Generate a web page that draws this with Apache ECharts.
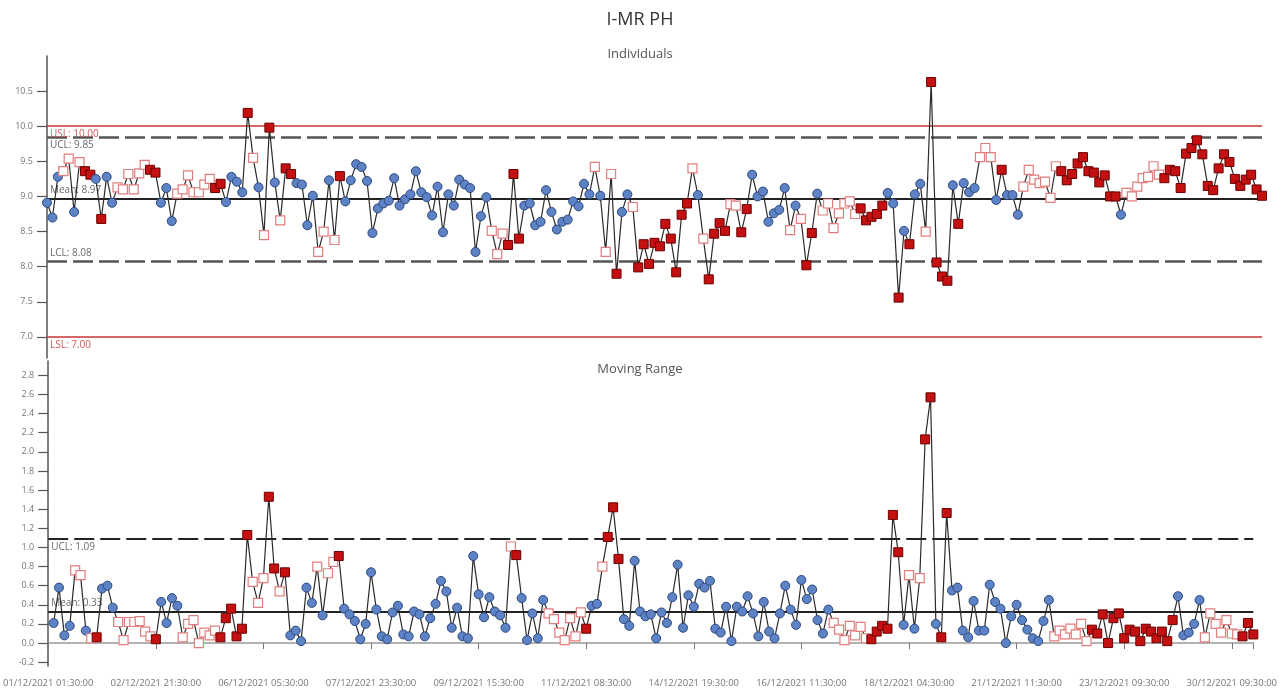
<!DOCTYPE html>
<html>
<head>
<meta charset="utf-8">
<title>I-MR PH</title>
<script src="https://cdn.jsdelivr.net/npm/echarts@6.0.0/dist/echarts.min.js"></script>
<style>
  html, body { margin: 0; padding: 0; background: #fff; }
  #chart { width: 1280px; height: 691px; }
</style>
</head>
<body>
<div id="chart"></div>
<script>
// individual pH readings, one per sample
const indValues = [
  8.91, 8.70, 9.28, 9.36, 9.54, 8.78, 9.49, 9.36, 9.31, 9.25,
  8.68, 9.28, 8.91, 9.13, 9.10, 9.32, 9.10, 9.33, 9.45, 9.38,
  9.34, 8.91, 9.12, 8.65, 9.04, 9.10, 9.30, 9.06, 9.06, 9.17,
  9.25, 9.12, 9.18, 8.92, 9.28, 9.21, 9.06, 10.19, 9.55, 9.13,
  8.45, 9.98, 9.20, 8.66, 9.40, 9.32, 9.19, 9.17, 8.59, 9.01,
  8.21, 8.50, 9.23, 8.38, 9.29, 8.93, 9.23, 9.46, 9.42, 9.22,
  8.48, 8.83, 8.90, 8.94, 9.26, 8.87, 8.96, 9.03, 9.36, 9.06,
  8.99, 8.73, 9.14, 8.49, 9.03, 8.87, 9.24, 9.17, 9.12, 8.21,
  8.72, 8.99, 8.51, 8.18, 8.47, 8.31, 9.32, 8.40, 8.87, 8.90,
  8.59, 8.64, 9.09, 8.78, 8.53, 8.64, 8.67, 8.93, 8.86, 9.18,
  9.03, 9.42, 9.01, 8.21, 9.32, 7.90, 8.78, 9.03, 8.85, 7.99,
  8.32, 8.04, 8.34, 8.29, 8.61, 8.40, 7.92, 8.74, 8.90, 9.40,
  9.02, 8.40, 7.82, 8.47, 8.62, 8.51, 8.89, 8.87, 8.49, 8.82,
  9.31, 9.00, 9.07, 8.64, 8.76, 8.81, 9.12, 8.52, 8.87, 8.68,
  8.02, 8.48, 9.04, 8.80, 8.90, 8.55, 8.76, 8.90, 8.93, 8.75,
  8.83, 8.66, 8.71, 8.75, 8.87, 9.05, 8.90, 7.56, 8.51, 8.32,
  9.03, 9.18, 8.50, 10.63, 8.06, 7.86, 7.80, 9.16, 8.61, 9.19,
  9.06, 9.12, 9.56, 9.69, 9.56, 8.95, 9.38, 9.02, 9.02, 8.74,
  9.14, 9.38, 9.24, 9.19, 9.21, 8.98, 9.43, 9.36, 9.23, 9.32,
  9.47, 9.56, 9.36, 9.34, 9.20, 9.30, 9.00, 9.00, 8.74, 9.05,
  9.00, 9.14, 9.26, 9.28, 9.43, 9.31, 9.26, 9.38, 9.36, 9.12,
  9.61, 9.69, 9.80, 9.60, 9.15, 9.09, 9.40, 9.60, 9.49, 9.25,
  9.15, 9.24, 9.31, 9.10, 9.01
];

// moving range values (first sample has none)
const mrValues = [
  null, 0.21, 0.58, 0.08, 0.18, 0.76, 0.71, 0.13, 0.05, 0.06,
  0.57, 0.60, 0.37, 0.22, 0.03, 0.22, 0.22, 0.23, 0.12, 0.07,
  0.04, 0.43, 0.21, 0.47, 0.39, 0.06, 0.20, 0.24, 0.00, 0.11,
  0.08, 0.13, 0.06, 0.26, 0.36, 0.07, 0.15, 1.13, 0.64, 0.42,
  0.68, 1.53, 0.78, 0.54, 0.74, 0.08, 0.13, 0.02, 0.58, 0.42,
  0.80, 0.29, 0.73, 0.85, 0.91, 0.36, 0.30, 0.23, 0.04, 0.20,
  0.74, 0.35, 0.07, 0.04, 0.32, 0.39, 0.09, 0.07, 0.33, 0.30,
  0.07, 0.26, 0.41, 0.65, 0.54, 0.16, 0.37, 0.07, 0.05, 0.91,
  0.51, 0.27, 0.48, 0.33, 0.29, 0.16, 1.01, 0.92, 0.47, 0.03,
  0.31, 0.05, 0.45, 0.31, 0.25, 0.11, 0.03, 0.26, 0.07, 0.32,
  0.15, 0.39, 0.41, 0.80, 1.11, 1.42, 0.88, 0.25, 0.18, 0.86,
  0.33, 0.28, 0.30, 0.05, 0.32, 0.21, 0.48, 0.82, 0.16, 0.50,
  0.38, 0.62, 0.58, 0.65, 0.15, 0.11, 0.38, 0.02, 0.38, 0.33,
  0.49, 0.31, 0.07, 0.43, 0.12, 0.05, 0.31, 0.60, 0.35, 0.19,
  0.66, 0.46, 0.56, 0.24, 0.10, 0.35, 0.21, 0.14, 0.03, 0.18,
  0.08, 0.17, 0.05, 0.04, 0.12, 0.18, 0.15, 1.34, 0.95, 0.19,
  0.71, 0.15, 0.68, 2.13, 2.57, 0.20, 0.06, 1.36, 0.55, 0.58,
  0.13, 0.06, 0.44, 0.13, 0.13, 0.61, 0.43, 0.36, 0.00, 0.28,
  0.40, 0.24, 0.14, 0.05, 0.02, 0.23, 0.45, 0.07, 0.13, 0.09,
  0.15, 0.09, 0.20, 0.02, 0.14, 0.10, 0.30, 0.00, 0.26, 0.31,
  0.05, 0.14, 0.12, 0.02, 0.15, 0.12, 0.05, 0.12, 0.02, 0.24,
  0.49, 0.08, 0.11, 0.20, 0.45, 0.06, 0.31, 0.20, 0.11, 0.24,
  0.10, 0.09, 0.07, 0.21, 0.09
];

// rule status per point: 0 = in control, 1 = warning, 2 = violation
const indStatus = [
  '0001101220', '2001111112', '2000111111', '1220000210', '1201220000',
  '1101200000', '0000000000', '0000000000', '0011122200', '0000000000',
  '0101120012', '2222222221', '0122221122', '0000000101', '2201111111',
  '2222200202', '0012222020', '0011102000', '1111111222', '2222222201',
  '1111112222', '2222222222', '22222'
].join('');

const mrStatus = [
  '0000011012', '0001111111', '2000011111', '1122222211', '1221200000',
  '1011200000', '0000000000', '0000000000', '0000001200', '0001111111',
  '2001222000', '0000000000', '0000000000', '0000000000', '0000001111',
  '1112222220', '1012202200', '0000000000', '0000000111', '1111222222',
  '2222222222', '0000011111', '11222'
].join('');

// x axis labels, one every 20 samples
const tickLabels = [
  '01/12/2021 01:30:00', '02/12/2021 21:30:00', '06/12/2021 05:30:00',
  '07/12/2021 23:30:00', '09/12/2021 15:30:00', '11/12/2021 08:30:00',
  '14/12/2021 19:30:00', '16/12/2021 11:30:00', '18/12/2021 04:30:00',
  '21/12/2021 11:30:00', '23/12/2021 09:30:00', '30/12/2021 09:30:00'
];

const indTicks = [7.0, 7.5, 8.0, 8.5, 9.0, 9.5, 10.0, 10.5];
const mrTicks = [-0.2, 0, 0.2, 0.4, 0.6, 0.8, 1.0, 1.2, 1.4, 1.6, 1.8, 2.0, 2.2, 2.4, 2.6, 2.8];

const USL = 10.00, LSL = 7.00;
const indUCL = 9.85, indMean = 8.97, indLCL = 8.08;
const mrUCL = 1.09, mrMean = 0.33;

const FONT = '"Open Sans", "Noto Sans", sans-serif';
const categories = indValues.map((v, i) => String(i));
const lastIdx = categories.length - 1;

const pointStyle = {
  '0': { symbol: 'circle', itemStyle: { color: '#5d82c6', borderColor: '#2c4a7e', borderWidth: 1 } },
  '1': { symbol: 'rect', itemStyle: { color: '#ffffff', borderColor: '#e27d7d', borderWidth: 1.2 } },
  '2': { symbol: 'rect', itemStyle: { color: '#c41010', borderColor: '#6a0000', borderWidth: 1 } }
};

function buildPoints(values, status) {
  return values.map((v, i) => {
    const s = pointStyle[status[i]] || pointStyle['0'];
    return { value: v, symbol: s.symbol, itemStyle: s.itemStyle };
  });
}

function limitLine(value, text, color, type, width, pos) {
  return {
    yAxis: value,
    lineStyle: { color: color, type: type, width: width },
    label: {
      show: true, formatter: text, position: pos, distance: 3,
      color: color === '#222' || color === '#555' ? '#6a6a6a' : '#d05a5a',
      fontSize: 10, fontFamily: FONT
    }
  };
}

const yAxisBase = {
  type: 'value',
  axisLine: { show: true, lineStyle: { color: '#555', width: 1.5 } },
  axisTick: { show: true, inside: false, length: 10, lineStyle: { color: '#555', width: 1.2 } },
  splitLine: { show: false },
  axisLabel: { color: '#777', fontSize: 9, fontFamily: FONT, margin: 14, formatter: v => v.toFixed(1) }
};

const chart = echarts.init(document.getElementById('chart'));
chart.setOption({
  animation: false,
  backgroundColor: '#fff',
  title: [
    { text: 'I-MR PH', left: 'center', top: 6, textStyle: { fontSize: 18, fontWeight: 'normal', color: '#333', fontFamily: FONT } },
    { text: 'Individuals', left: 'center', top: 43, textStyle: { fontSize: 13, fontWeight: 'normal', color: '#555', fontFamily: FONT } },
    { text: 'Moving Range', left: 'center', top: 358, textStyle: { fontSize: 13, fontWeight: 'normal', color: '#555', fontFamily: FONT } }
  ],
  grid: [
    { left: 47, right: 18, top: 56, height: 302 },
    { left: 47, right: 18, top: 361, height: 305 }
  ],
  xAxis: [
    { type: 'category', gridIndex: 0, data: categories, boundaryGap: false, show: false },
    {
      type: 'category', gridIndex: 1, data: categories, boundaryGap: false,
      axisLine: { show: true, lineStyle: { color: '#999', width: 1.5 } },
      axisTick: {
        show: true, length: 6, lineStyle: { color: '#777' },
        interval: idx => idx % 20 === 0 || idx === lastIdx
      },
      axisLabel: {
        interval: 19, color: '#777', fontSize: 9.5, fontFamily: FONT, margin: 12,
        formatter: (v, idx) => tickLabels[idx / 20] || ''
      }
    }
  ],
  yAxis: [
    Object.assign({}, yAxisBase, {
      gridIndex: 0, min: 6.7, max: 11.0,
      axisTick: Object.assign({}, yAxisBase.axisTick, { customValues: indTicks }),
      axisLabel: Object.assign({}, yAxisBase.axisLabel, { customValues: indTicks })
    }),
    Object.assign({}, yAxisBase, {
      gridIndex: 1, min: -0.24, max: 2.95,
      axisTick: Object.assign({}, yAxisBase.axisTick, { customValues: mrTicks }),
      axisLabel: Object.assign({}, yAxisBase.axisLabel, { customValues: mrTicks })
    })
  ],
  series: [
    {
      name: 'Individuals', type: 'line', xAxisIndex: 0, yAxisIndex: 0,
      data: buildPoints(indValues, indStatus),
      symbolSize: 9, showAllSymbol: true,
      lineStyle: { color: '#2a2a2a', width: 1.2 },
      z: 5,
      markLine: {
        silent: true, symbol: ['none', 'none'], z: 3,
        data: [
          limitLine(USL, 'USL: 10.00', '#c93434', 'solid', 1.5, 'insideStartBottom'),
          limitLine(indUCL, 'UCL: 9.85', '#555', [20, 6], 2.5, 'insideStartBottom'),
          limitLine(indMean, 'Mean: 8.97', '#222', 'solid', 2.2, 'insideStartTop'),
          limitLine(indLCL, 'LCL: 8.08', '#555', [20, 6], 2.5, 'insideStartTop'),
          limitLine(LSL, 'LSL: 7.00', '#c93434', 'solid', 1.5, 'insideStartBottom')
        ]
      }
    },
    {
      name: 'Moving Range', type: 'line', xAxisIndex: 1, yAxisIndex: 1,
      data: buildPoints(mrValues, mrStatus),
      symbolSize: 9, showAllSymbol: true, connectNulls: false,
      lineStyle: { color: '#2a2a2a', width: 1.2 },
      z: 5,
      markLine: {
        silent: true, symbol: ['none', 'none'], z: 3,
        data: [
          limitLine(mrUCL, 'UCL: 1.09', '#222', [20, 6], 2.2, 'insideStartBottom'),
          limitLine(mrMean, 'Mean: 0.33', '#222', 'solid', 2.2, 'insideStartTop')
        ]
      }
    }
  ]
});
</script>
</body>
</html>
